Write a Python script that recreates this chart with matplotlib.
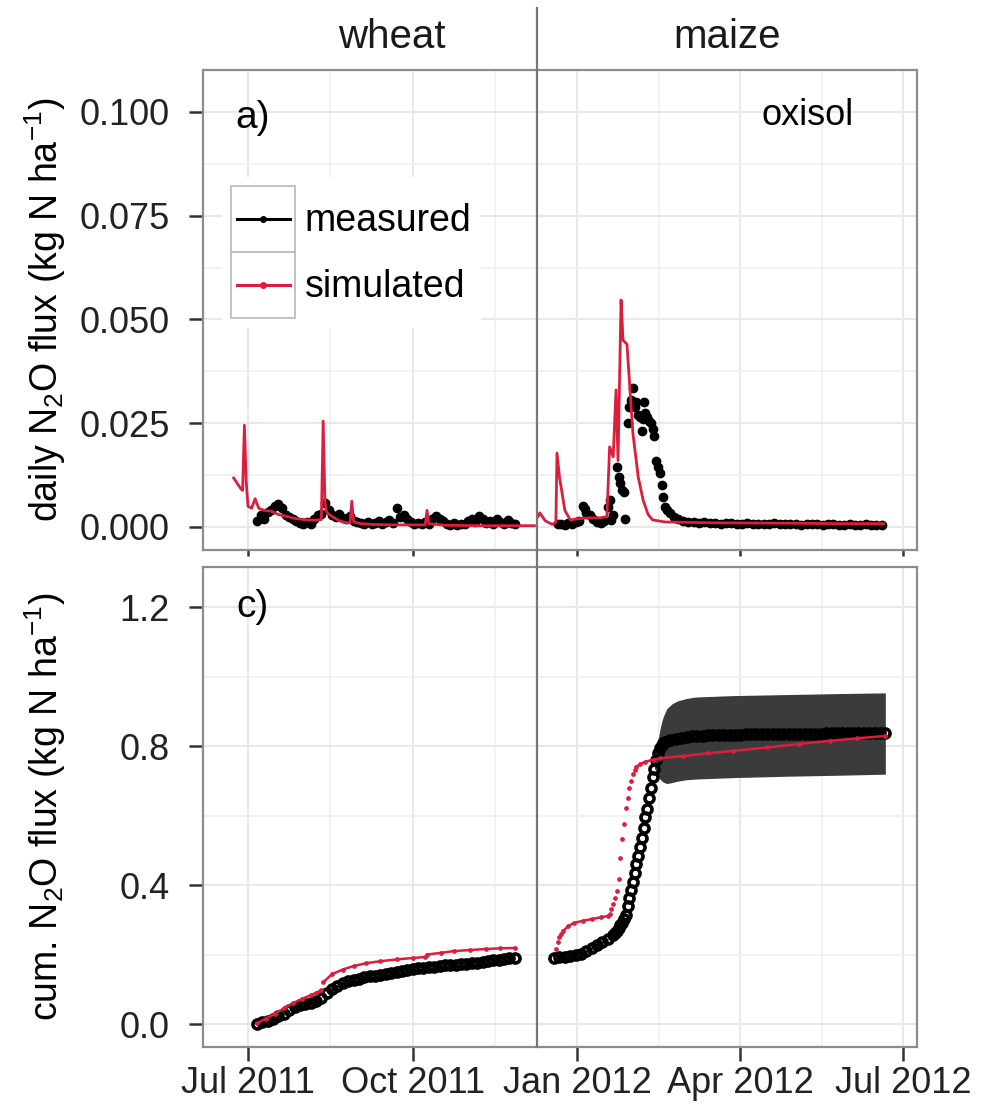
import numpy as np
import matplotlib
matplotlib.use('Agg')
import matplotlib.pyplot as plt
import matplotlib.dates as mdates
from matplotlib.patches import Rectangle
from matplotlib.lines import Line2D
from matplotlib.legend_handler import HandlerBase
from datetime import datetime

plt.rcParams['font.family'] = ['Liberation Sans', 'DejaVu Sans']
plt.rcParams['mathtext.default'] = 'regular'

RED = '#DC1E3C'

# days are counted from 1 Jul 2011
# --- daily flux, simulated (line) ---
sim_flux_wheat_days = [-8, -6, -4, -3, -2, -1, 0, 2, 4, 6, 9, 13, 17, 22, 27, 33, 38, 41, 42, 43, 44,
                       47, 51, 55, 57, 58, 59, 63, 70, 80, 90, 99, 100, 101, 110, 130, 150, 160]
sim_flux_wheat = [0.0118, 0.0105, 0.0092, 0.0088, 0.0245, 0.0110, 0.0050, 0.0045, 0.0068, 0.0045,
                  0.0040, 0.0038, 0.0030, 0.0025, 0.0020, 0.0017, 0.0016, 0.0018, 0.0255, 0.0060,
                  0.0035, 0.0025, 0.0015, 0.0010, 0.0010, 0.0062, 0.0012, 0.0008, 0.0006, 0.0005,
                  0.0005, 0.0005, 0.0040, 0.0008, 0.0004, 0.0003, 0.0003, 0.0003]

sim_flux_maize_days = [162, 163, 166, 170, 172, 172.6, 174, 177, 180, 185, 191, 197, 200.5, 202, 204,
                       205.6, 206.7, 208.4, 209.5, 211.7, 215, 218, 220.7, 223.5, 226, 233, 260, 300,
                       330, 355]
sim_flux_maize = [0.0025, 0.0034, 0.0015, 0.0006, 0.0012, 0.0178, 0.0120, 0.0040, 0.0017, 0.0020,
                  0.0022, 0.0022, 0.0025, 0.0193, 0.0169, 0.0330, 0.0160, 0.0547, 0.0450, 0.0440,
                  0.0226, 0.0120, 0.0065, 0.0030, 0.0017, 0.0012, 0.0010, 0.0009, 0.0008, 0.0008]

# --- daily flux, measured (points) ---
meas_flux_wheat_days = np.arange(5, 150, 2)
meas_flux_wheat = [0.0015, 0.0030, 0.0020, 0.0035, 0.0040, 0.0050, 0.0055, 0.0045, 0.0030, 0.0025,
                   0.0020, 0.0015, 0.0010, 0.0008, 0.0012, 0.0008, 0.0020, 0.0028, 0.0032, 0.0058,
                   0.0040, 0.0030, 0.0025, 0.0032, 0.0022, 0.0018, 0.0026, 0.0015, 0.0012, 0.0010,
                   0.0008, 0.0012, 0.0006, 0.0010, 0.0014, 0.0008, 0.0012, 0.0016, 0.0010, 0.0045,
                   0.0025, 0.0030, 0.0018, 0.0012, 0.0008, 0.0010, 0.0006, 0.0012, 0.0008, 0.0018,
                   0.0026, 0.0020, 0.0014, 0.0008, 0.0005, 0.0010, 0.0004, 0.0008, 0.0006, 0.0015,
                   0.0020, 0.0012, 0.0026, 0.0018, 0.0010, 0.0014, 0.0006, 0.0020, 0.0012, 0.0008,
                   0.0016, 0.0010, 0.0006]

meas_flux_maize_days = np.concatenate([
    [173, 175, 177, 179, 181, 183, 185, 187, 188, 189, 191, 193, 195, 197, 199, 201, 202, 203, 204,
     206, 207, 208, 209, 210, 210.5, 212, 213, 214, 215, 216, 217, 218, 219, 220, 220.5, 221, 222,
     223, 224, 225, 226, 227, 228, 229, 230, 231, 232, 233, 234, 236, 238, 240, 243, 246],
    np.arange(249, 355, 3)])
meas_flux_maize = [0.0006, 0.0008, 0.0005, 0.0010, 0.0007, 0.0012, 0.0015, 0.0050, 0.0043, 0.0034,
                   0.0030, 0.0020, 0.0012, 0.0010, 0.0015, 0.0048, 0.0065, 0.0017, 0.0030, 0.0145,
                   0.0120, 0.0106, 0.0090, 0.0085, 0.0020, 0.0250, 0.0290, 0.0305, 0.0335, 0.0290,
                   0.0300, 0.0270, 0.0265, 0.0230, 0.0260, 0.0300, 0.0275, 0.0265, 0.0255, 0.0250,
                   0.0235, 0.0220, 0.0160, 0.0145, 0.0130, 0.0100, 0.0072, 0.0048, 0.0040, 0.0034,
                   0.0025, 0.0020, 0.0015, 0.0012,
                   0.0012, 0.0010, 0.0011, 0.0009, 0.0010, 0.0008, 0.0009, 0.0010, 0.0008, 0.0007,
                   0.0009, 0.0008, 0.0006, 0.0008, 0.0007, 0.0009, 0.0006, 0.0007, 0.0008, 0.0006,
                   0.0005, 0.0007, 0.0006, 0.0008, 0.0005, 0.0006, 0.0007, 0.0005, 0.0004, 0.0006,
                   0.0005, 0.0004, 0.0006, 0.0005, 0.0004, 0.0005]

# --- cumulative flux, measured (open circles) ---
meas_cum_wheat_days = np.arange(5, 150, 3)
meas_cum_wheat = [0.000, 0.005, 0.010, 0.015, 0.022, 0.030, 0.040, 0.048, 0.054, 0.058,
                  0.062, 0.067, 0.074, 0.090, 0.102, 0.110, 0.117, 0.123, 0.128, 0.131,
                  0.134, 0.137, 0.139, 0.141, 0.143, 0.146, 0.150, 0.153, 0.156, 0.158,
                  0.160, 0.161, 0.163, 0.165, 0.167, 0.169, 0.170, 0.171, 0.172, 0.173,
                  0.175, 0.177, 0.180, 0.182, 0.183, 0.185, 0.187, 0.189, 0.190]

meas_cum_maize_days = np.concatenate([np.arange(171, 205, 3), np.arange(205, 234), np.arange(236, 357, 3)])
meas_cum_maize = [0.190, 0.192, 0.194, 0.196, 0.199, 0.203, 0.210, 0.218, 0.228, 0.236, 0.244, 0.256,
                  0.262, 0.268, 0.276, 0.284, 0.292, 0.302, 0.315, 0.340, 0.362, 0.385, 0.410, 0.435,
                  0.460, 0.485, 0.510, 0.535, 0.565, 0.595, 0.620, 0.650, 0.680, 0.710, 0.735, 0.760,
                  0.780, 0.795, 0.803, 0.808, 0.811,
                  0.817, 0.821, 0.824, 0.826, 0.828, 0.829, 0.830, 0.831, 0.831, 0.832,
                  0.832, 0.833, 0.833, 0.833, 0.834, 0.834, 0.834, 0.834, 0.835, 0.835,
                  0.835, 0.835, 0.835, 0.836, 0.836, 0.836, 0.836, 0.836, 0.836, 0.837,
                  0.837, 0.837, 0.837, 0.837, 0.837, 0.837, 0.838, 0.838, 0.838, 0.838, 0.838]

# uncertainty band of measured cumulative flux (maize)
band_days = [227, 228, 229, 230, 231, 232, 234, 237, 240, 245, 250, 270, 300, 330, 356]
band_hi = [0.760, 0.790, 0.815, 0.845, 0.868, 0.885, 0.908, 0.922, 0.930, 0.937, 0.941, 0.945, 0.948, 0.951, 0.953]
band_lo = [0.737, 0.725, 0.714, 0.706, 0.700, 0.696, 0.692, 0.695, 0.699, 0.703, 0.705, 0.709, 0.713, 0.716, 0.719]

# --- cumulative flux, simulated (small points) ---
sim_cum_wheat_days = [5, 10, 15, 20, 25, 30, 35, 38, 41, 42, 47, 53, 59, 66, 74, 83, 92, 99, 100, 108,
                      115, 124, 133, 141, 149]
sim_cum_wheat = [0.002, 0.016, 0.030, 0.045, 0.060, 0.072, 0.083, 0.090, 0.098, 0.120, 0.144, 0.157,
                 0.167, 0.175, 0.181, 0.186, 0.190, 0.193, 0.200, 0.205, 0.210, 0.213, 0.216, 0.218, 0.219]

sim_cum_maize_days = [172, 173, 174, 175, 176, 179, 182, 187, 192, 197, 201,
                      202, 203, 204, 205, 206, 207, 208, 209, 210, 211, 212, 213, 214, 215, 216, 217,
                      219, 222, 226, 230, 243, 257, 271, 290, 308, 325, 340, 356]
sim_cum_maize = [0.216, 0.235, 0.250, 0.260, 0.268, 0.282, 0.291, 0.297, 0.302, 0.307, 0.311,
                 0.318, 0.330, 0.345, 0.363, 0.383, 0.417, 0.478, 0.532, 0.575, 0.622, 0.650, 0.680,
                 0.700, 0.719, 0.732, 0.740,
                 0.748, 0.755, 0.760, 0.765, 0.771, 0.779, 0.786, 0.796, 0.806, 0.815, 0.822, 0.829]

flux_ticks = [0.0, 0.025, 0.05, 0.075, 0.1]
cum_ticks = [0.0, 0.4, 0.8, 1.2]

base = mdates.date2num(datetime(2011, 7, 1))


def to_x(days):
    return base + np.asarray(days, dtype=float)


def broken(days, vals, max_rate=0.006):
    # daily points drawn as a line, except where they step apart
    x, y = [], []
    for i, (d, v) in enumerate(zip(days, vals)):
        if i > 0 and (v - vals[i - 1]) / (d - days[i - 1]) > max_rate:
            x.append(np.nan)
            y.append(np.nan)
        x.append(d)
        y.append(v)
    return to_x(x), np.array(y)


class KeyHandler(HandlerBase):
    def create_artists(self, legend, orig_handle, xdescent, ydescent, width, height, fontsize, trans):
        box = Rectangle((-xdescent, -ydescent), width, height, facecolor='white',
                        edgecolor='#bdbdbd', lw=1.3, transform=trans)
        yc = -ydescent + height / 2
        c = orig_handle.get_color()
        line = Line2D([-xdescent + 0.08 * width, -xdescent + 0.92 * width], [yc, yc],
                      color=c, lw=2.2, transform=trans)
        dot = Line2D([-xdescent + width / 2], [yc], marker='o', ms=4, color=c, ls='none', transform=trans)
        return [box, line, dot]


fig = plt.figure(figsize=(9.89, 11.11), dpi=100)
ax1 = fig.add_axes([0.2053, 0.505, 0.7219, 0.432])
ax2 = fig.add_axes([0.2053, 0.0576, 0.7219, 0.432])

for ax in (ax1, ax2):
    ax.set_xlim(to_x(-25.1), to_x(373.7))
    ax.xaxis.set_major_locator(mdates.MonthLocator(bymonth=[1, 4, 7, 10]))
    ax.xaxis.set_major_formatter(mdates.DateFormatter('%b %Y'))
    locs = ax.get_xticks()
    ax.set_xticks((locs[:-1] + locs[1:]) / 2, minor=True)
    for s in ax.spines.values():
        s.set_color('#8c8c8c')
        s.set_linewidth(1.6)
    ax.grid(which='major', color='#e8e8e8', lw=1.5)
    ax.grid(which='minor', color='#efefef', lw=1.1)
    ax.set_axisbelow(True)
    ax.tick_params(which='major', length=10, width=1.8, color='#333333',
                   labelsize=26, labelcolor='#222222')
    ax.tick_params(which='minor', length=0)
    ax.tick_params(axis='y', pad=14)
    ax.tick_params(axis='x', pad=4)

# top panel: daily flux
ax1.plot(to_x(sim_flux_wheat_days), sim_flux_wheat, color=RED, lw=2.0, zorder=4)
ax1.plot(to_x(sim_flux_maize_days), sim_flux_maize, color=RED, lw=2.0, zorder=4)
ax1.plot(to_x(meas_flux_wheat_days), meas_flux_wheat, 'o', color='black', ms=6, zorder=3)
ax1.plot(to_x(meas_flux_maize_days), meas_flux_maize, 'o', color='black', ms=6, zorder=3)
ax1.set_ylim(-0.00554, 0.1101)
ax1.set_yticks(flux_ticks)
ax1.set_yticks([0.0125, 0.0375, 0.0625, 0.0875], minor=True)
ax1.yaxis.set_major_formatter(plt.FormatStrFormatter('%.3f'))
ax1.tick_params(axis='x', labelbottom=False, length=4)
ax1.set_ylabel('daily N$_2$O flux (kg N ha$^{-1}$)', fontsize=27, va='center')
ax1.yaxis.set_label_coords(-0.221, 0.5)
ax1.text(0.045, 0.9, 'a)', transform=ax1.transAxes, fontsize=28, ha='left', va='center')
ax1.text(0.847, 0.906, 'oxisol', transform=ax1.transAxes, fontsize=26, ha='center', va='center')

handles = [Line2D([], [], color='black'), Line2D([], [], color=RED)]
leg = ax1.legend(handles, ['measured', 'simulated'], handler_map={Line2D: KeyHandler()},
                 loc='upper left', bbox_to_anchor=(0.0266, 0.777), borderaxespad=0,
                 fontsize=27, handlelength=1.7, handleheight=2.33, labelspacing=0,
                 handletextpad=0.25, borderpad=0.25, frameon=True, fancybox=False,
                 framealpha=1, edgecolor='none', facecolor='white')
leg.set_zorder(6)

# bottom panel: cumulative flux
ax2.fill_between(to_x(band_days), band_lo, band_hi, color='#3b3b3b', lw=0, zorder=2)
for d, v in ((meas_cum_wheat_days, meas_cum_wheat), (meas_cum_maize_days, meas_cum_maize)):
    ax2.plot(to_x(d), v, 'o', mfc='none', mec='black', mew=2.6, ms=6.5, zorder=3)
for d, v in ((sim_cum_wheat_days, sim_cum_wheat), (sim_cum_maize_days, sim_cum_maize)):
    bx, by = broken(d, v)
    ax2.plot(bx, by, color=RED, lw=1.8, zorder=4)
    ax2.plot(to_x(d), v, 'o', color=RED, ms=2.4, zorder=4)
ax2.set_ylim(-0.066, 1.315)
ax2.set_yticks(cum_ticks)
ax2.set_yticks([0.2, 0.6, 1.0], minor=True)
ax2.yaxis.set_major_formatter(plt.FormatStrFormatter('%.1f'))
ax2.set_ylabel('cum. N$_2$O flux (kg N ha$^{-1}$)', fontsize=27, va='center')
ax2.yaxis.set_label_coords(-0.221, 0.5)
ax2.text(0.047, 0.917, 'c)', transform=ax2.transAxes, fontsize=28, ha='left', va='center')

# facet divider between wheat and maize
x_div = to_x(161.5)
ax1.axvline(x_div, ymin=0, ymax=(550 - 8) / 480, clip_on=False, color='#777777', lw=1.6, zorder=5)
ax2.axvline(x_div, ymin=0, ymax=(1047 - 550) / 480, clip_on=False, color='#777777', lw=1.6, zorder=5)

fig.text(392 / 989, 1 - 37 / 1111, 'wheat', fontsize=29, ha='center', va='center', color='#1a1a1a')
fig.text(727 / 989, 1 - 37 / 1111, 'maize', fontsize=29, ha='center', va='center', color='#1a1a1a')

fig.savefig('out.png', dpi=100)
